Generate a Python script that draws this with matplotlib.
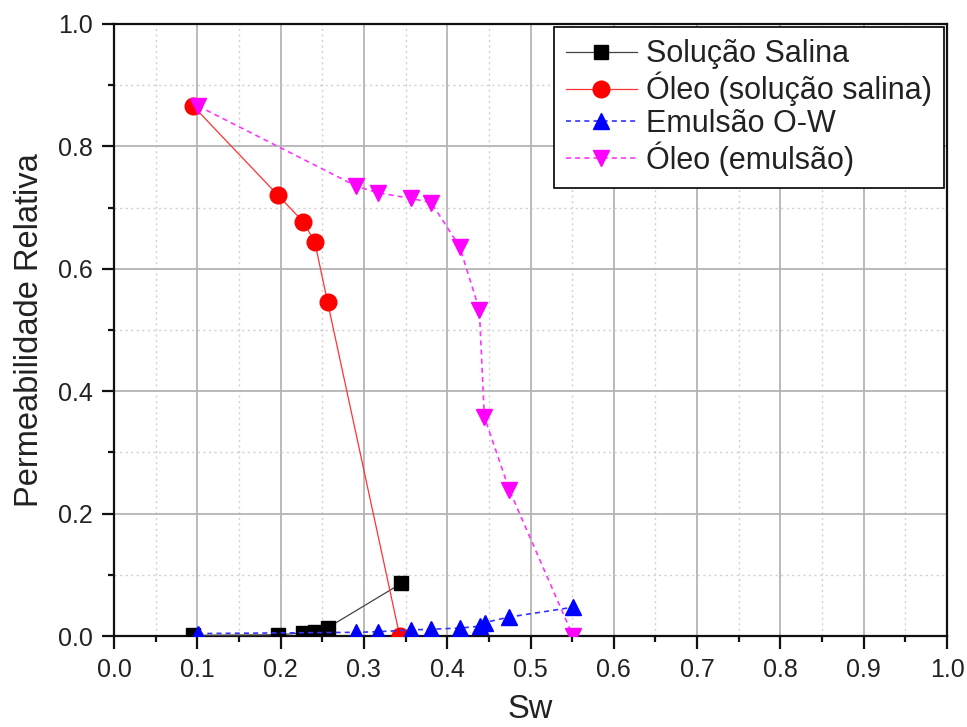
import matplotlib
matplotlib.use("Agg")
import matplotlib.pyplot as plt
from matplotlib.ticker import MultipleLocator, FormatStrFormatter

plt.rcParams['font.family'] = ['Liberation Sans', 'DejaVu Sans']

# dados
sw_salina = [0.095, 0.197, 0.227, 0.241, 0.2565, 0.345]
kr_salina = [0.001, 0.002, 0.005, 0.006, 0.0135, 0.086]

sw_oleo_salina = [0.095, 0.197, 0.227, 0.241, 0.2565, 0.343]
kr_oleo_salina = [0.866, 0.720, 0.677, 0.644, 0.545, 0.0]

sw_emulsao = [0.101, 0.291, 0.317, 0.357, 0.381, 0.415, 0.439, 0.445, 0.4746, 0.551]
kr_emulsao = [0.004, 0.006, 0.007, 0.010, 0.011, 0.013, 0.016, 0.022, 0.031, 0.047]

sw_oleo_emulsao = [0.101, 0.291, 0.317, 0.357, 0.381, 0.415, 0.4386, 0.4446, 0.4746, 0.551]
kr_oleo_emulsao = [0.866, 0.735, 0.724, 0.715, 0.708, 0.636, 0.533, 0.358, 0.2386, 0.0]

fig = plt.figure(figsize=(9.67, 7.27), dpi=100)
ax = fig.add_axes([114 / 967, 1 - 636 / 727, (947 - 114) / 967, (636 - 24) / 727])

ax.plot(sw_salina, kr_salina, color='#444444', lw=0.9, marker='s', ms=9.5,
        mfc='black', mec='black', label='Solução Salina', zorder=3)
ax.plot(sw_oleo_salina, kr_oleo_salina, color='#ff3333', lw=0.9, marker='o', ms=12,
        mfc='#ff0000', mec='#ff0000', label='Óleo (solução salina)', zorder=3)
ax.plot(sw_emulsao, kr_emulsao, color='#3333ff', lw=1.2, ls=(0, (3, 2.5)), marker='^', ms=11,
        mfc='#0000ff', mec='#0000ff', label='Emulsão O-W', zorder=4)
ax.plot(sw_oleo_emulsao, kr_oleo_emulsao, color='#ff33ff', lw=1.2, ls=(0, (3, 2.5)), marker='v', ms=12,
        mfc='#ff00ff', mec='#ff00ff', label='Óleo (emulsão)', zorder=4)

ax.set_xlim(0, 1.0)
ax.set_ylim(0, 1.0)
ax.xaxis.set_major_locator(MultipleLocator(0.1))
ax.xaxis.set_minor_locator(MultipleLocator(0.05))
ax.yaxis.set_major_locator(MultipleLocator(0.2))
ax.yaxis.set_minor_locator(MultipleLocator(0.1))
ax.xaxis.set_major_formatter(FormatStrFormatter('%.1f'))
ax.yaxis.set_major_formatter(FormatStrFormatter('%.1f'))

ax.grid(True, which='major', color='#b4b4b4', lw=1.3, ls='-', zorder=0)
ax.grid(True, which='minor', color='#d0d0d0', lw=1.0, ls=(0, (1.5, 2.5)), zorder=0)
ax.set_axisbelow(True)

for s in ax.spines.values():
    s.set_linewidth(1.6)
    s.set_color('#111111')

ax.tick_params(which='major', direction='out', length=9, width=1.6, labelsize=18,
               colors='#111111', labelcolor='#222222', pad=6.5, top=False, right=False)
ax.tick_params(which='minor', direction='out', length=4.5, width=1.6,
               colors='#111111', top=False, right=False)

ax.set_xlabel('Sw', fontsize=23.5, color='#222222', labelpad=9)
ax.set_ylabel('Permeabilidade Relativa', fontsize=23.5, color='#222222', labelpad=9)

leg = ax.legend(loc='upper right', fontsize=22, numpoints=1, handlelength=2.3,
                handletextpad=0.3, labelspacing=0.08, borderpad=0.4,
                borderaxespad=0.1, fancybox=False, framealpha=1)
leg.get_frame().set_edgecolor('black')
leg.get_frame().set_linewidth(1.2)
for t in leg.get_texts():
    t.set_color('#222222')

fig.savefig('out.png', dpi=100)
